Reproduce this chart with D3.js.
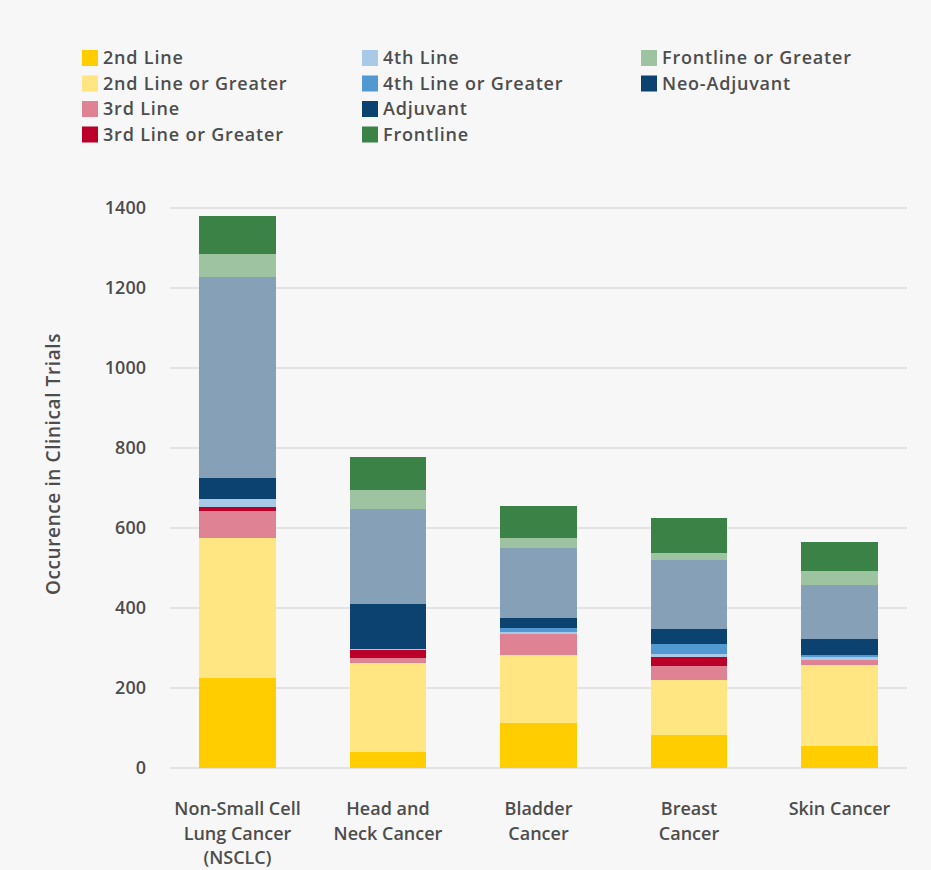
<!DOCTYPE html>
<html>
<head>
<meta charset="utf-8">
<script src="https://cdn.jsdelivr.net/npm/d3@7"></script>
<style>
  body { margin: 0; background: #f7f7f7; }
  svg { display: block; }
</style>
</head>
<body>
<div id="chart"></div>
<script>
// categories along the x axis (multi-line labels)
const categories = ["NSCLC", "Head and Neck", "Bladder", "Breast", "Skin"]
const categoryLabels = [
    ["Non-Small Cell", "Lung Cancer", "(NSCLC)"],
    ["Head and", "Neck Cancer"],
    ["Bladder", "Cancer"],
    ["Breast", "Cancer"],
    ["Skin Cancer"]
]

// stack order, bottom to top
const seriesNames = ["2nd Line", "2nd Line or Greater", "3rd Line", "3rd Line or Greater", "4th Line",
    "4th Line or Greater", "Adjuvant", "Neo-Adjuvant", "Unspecified", "Frontline or Greater", "Frontline"]

// values per series, one per category
const secondLine          = [225, 40, 112, 82, 55]
const secondLineOrGreater = [351, 222, 170, 138, 202]
const thirdLine           = [67, 13, 54, 35, 13]
const thirdLineOrGreater  = [10, 20, 0, 22, 0]
const fourthLine          = [20, 2, 3, 8, 7]
const fourthLineOrGreater = [0, 0, 11, 25, 5]
const adjuvant            = [30, 65, 14, 20, 22]
const neoAdjuvant         = [23, 48, 11, 17, 18]
const unspecified         = [502, 238, 175, 173, 135]
const frontlineOrGreater  = [58, 47, 25, 17, 35]
const frontline           = [94, 83, 80, 88, 73]

const yTicks = [0, 200, 400, 600, 800, 1000, 1200, 1400]

// legend entries in the order shown (column-major)
const legendNames = ["2nd Line", "2nd Line or Greater", "3rd Line", "3rd Line or Greater",
    "4th Line", "4th Line or Greater", "Adjuvant", "Frontline",
    "Frontline or Greater", "Neo-Adjuvant"]

const colors = {
    "2nd Line": "#ffcd00",
    "2nd Line or Greater": "#ffe682",
    "3rd Line": "#de8294",
    "3rd Line or Greater": "#ba0029",
    "4th Line": "#a9cae7",
    "4th Line or Greater": "#5399d1",
    "Adjuvant": "#0c426f",
    "Neo-Adjuvant": "#0c426f",
    "Unspecified": "#86a0b8",
    "Frontline or Greater": "#9dc3a1",
    "Frontline": "#3a8246"
}

const seriesValues = [secondLine, secondLineOrGreater, thirdLine, thirdLineOrGreater, fourthLine,
    fourthLineOrGreater, adjuvant, neoAdjuvant, unspecified, frontlineOrGreater, frontline]

const table = categories.map((c, i) => {
    let row = {category: c}
    seriesNames.forEach((s, j) => { row[s] = seriesValues[j][i] })
    return row
})

const width = 931, height = 870
const font = "'Open Sans', sans-serif"
const textColor = "#4d4d4d"

let svg = d3.select("#chart").append("svg")
    .attr("width", width)
    .attr("height", height)

svg.append("rect")
    .attr("width", width)
    .attr("height", height)
    .attr("fill", "#f7f7f7")

let x = d3.scaleBand()
    .domain(categories)
    .range([170, 907])
    .paddingInner(0.495)
    .paddingOuter(0.196)

let y = d3.scaleLinear()
    .domain([0, 1400])
    .range([768, 208])

// gridlines
svg.append("g")
    .selectAll("line")
    .data(yTicks)
    .enter().append("line")
    .attr("x1", 170)
    .attr("x2", 907)
    .attr("y1", d => y(d))
    .attr("y2", d => y(d))
    .attr("stroke", "#dcdcdc")
    .attr("stroke-width", 1.5)

// y axis labels
let yAxis = svg.append("g")
    .attr("transform", "translate(170,0)")
    .call(d3.axisLeft(y).tickValues(yTicks).tickFormat(d3.format("d")).tickSize(0).tickPadding(24))
yAxis.select(".domain").remove()
yAxis.selectAll("text")
    .style("font-family", font)
    .style("font-size", "18px")
    .style("font-weight", "600")
    .attr("fill", textColor)

svg.append("text")
    .attr("transform", "translate(60," + 464 + ") rotate(-90)")
    .attr("text-anchor", "middle")
    .style("font-family", font)
    .style("font-size", "19px")
    .style("font-weight", "600")
    .style("letter-spacing", "0.6px")
    .attr("fill", textColor)
    .text("Occurence in Clinical Trials")

// stacked bars
let stack = d3.stack().keys(seriesNames)(table)
svg.append("g")
    .attr("shape-rendering", "crispEdges")
    .selectAll("g")
    .data(stack)
    .enter().append("g")
    .attr("fill", d => colors[d.key])
    .selectAll("rect")
    .data(d => d)
    .enter().append("rect")
    .attr("x", d => x(d.data.category))
    .attr("width", x.bandwidth())
    .attr("y", d => y(d[1]))
    .attr("height", d => y(d[0]) - y(d[1]))

// x labels
let xl = svg.append("g")
    .selectAll("text")
    .data(categories)
    .enter().append("text")
    .attr("x", d => x(d) + x.bandwidth() / 2)
    .attr("y", 815)
    .attr("text-anchor", "middle")
    .style("font-family", font)
    .style("font-size", "18px")
    .style("font-weight", "600")
    .attr("fill", textColor)
xl.each(function (d, i) {
    let t = d3.select(this)
    categoryLabels[i].forEach((line, k) => {
        t.append("tspan")
            .attr("x", x(d) + x.bandwidth() / 2)
            .attr("dy", k === 0 ? 0 : 24.5)
            .text(line)
    })
})

// legend
let legend = svg.append("g")
    .selectAll("g")
    .data(legendNames)
    .enter().append("g")
    .attr("transform", (d, i) => "translate(" + [82, 362, 641][Math.floor(i / 4)] + "," + (50 + (i % 4) * 25.5) + ")")
legend.append("rect")
    .attr("width", 16)
    .attr("height", 16)
    .attr("fill", d => colors[d])
legend.append("text")
    .attr("x", 21)
    .attr("y", 14)
    .style("font-family", font)
    .style("font-size", "18px")
    .style("font-weight", "600")
    .style("letter-spacing", "0.8px")
    .attr("fill", textColor)
    .text(d => d)
</script>
</body>
</html>
